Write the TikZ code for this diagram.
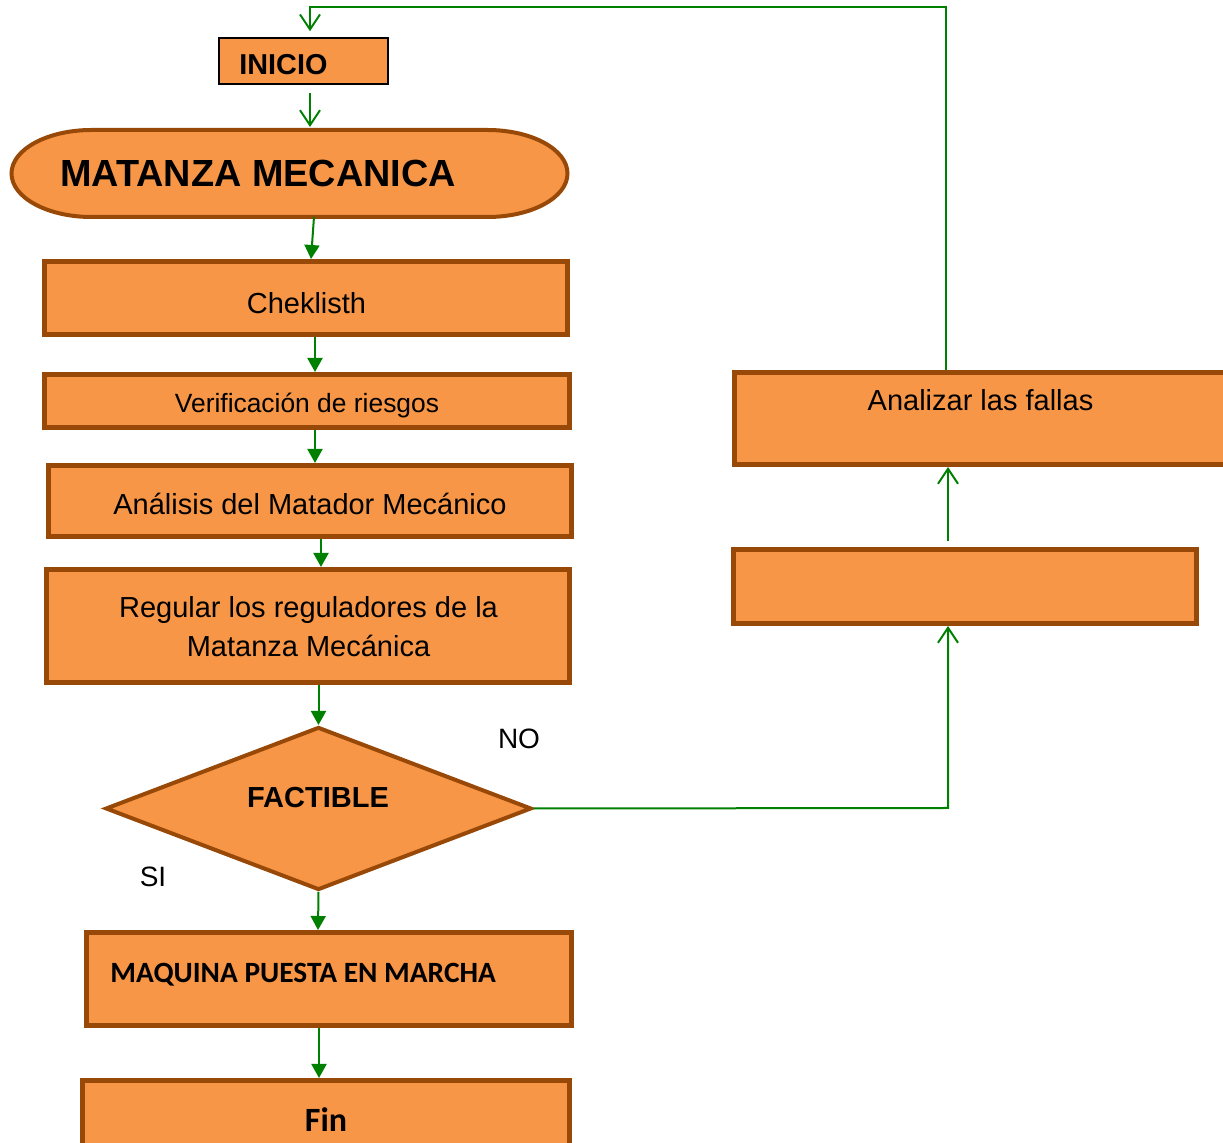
\documentclass[tikz,border=0pt]{standalone}
\usepackage{fontspec}
\setmainfont{Liberation Sans}
\newfontfamily\carlito{Carlito}
\usetikzlibrary{arrows.meta,shapes.geometric}
\definecolor{boxfill}{HTML}{F79646}
\definecolor{boxedge}{HTML}{984807}
\definecolor{flow}{HTML}{008000}

\begin{document}
\begin{tikzpicture}[x=0.5pt,y=-0.5pt,
  box/.style={draw=boxedge, fill=boxfill, line width=2.5pt, inner sep=0pt},
  flowline/.style={draw=flow, line width=1pt},
  solidtip/.style={flowline, -{Triangle[length=7pt,width=7.5pt]}},
  opentip/.style={flowline, -{Straight Barb[length=7.5pt,width=10pt]}},
  txt/.style={inner sep=0pt, anchor=base, font=\fontsize{14.5}{17.4}\selectfont},
  boldtxt/.style={txt, font=\bfseries\fontsize{14.5}{17.4}\selectfont},
]
\useasboundingbox (0,0) rectangle (1223,1143);

% ---------- main column ----------
\node[draw=black, fill=boxfill, line width=0.75pt, inner sep=0pt,
      minimum width=84.5pt, minimum height=23pt] (inicio) at (303.5,61) {};
\node[boldtxt, anchor=base west, font=\bfseries\fontsize{14.4}{17}\selectfont]
      (inicioText) at (239,75) {INICIO};

% terminal with elliptical ends
\node[inner sep=0pt, outer sep=0pt, minimum width=278pt, minimum height=43.5pt] (mat) at (289.5,173.5) {};
\path[draw=boxedge, fill=boxfill, line width=2pt]
  ([xshift=40pt]mat.north west) -- ([xshift=-40pt]mat.north east)
  arc[start angle=90, end angle=-90, x radius=40pt, y radius=21.75pt]
  -- ([xshift=40pt]mat.south west)
  arc[start angle=270, end angle=90, x radius=40pt, y radius=21.75pt] -- cycle;
\node[boldtxt, anchor=base west, font=\bfseries\fontsize{18.9}{22}\selectfont]
      (matText) at (60,187) {MATANZA MECANICA};

\node[box, minimum width=261.5pt, minimum height=36.5pt] (chk) at (306,298) {};
\node[txt] (chkText) at (306.5,314) {Cheklisth};

\node[box, minimum width=262.5pt, minimum height=26.5pt] (ver) at (307,401) {};
\node[txt, font=\fontsize{13.2}{16}\selectfont] (verText) at (307,413) {Verificación de riesgos};

\node[box, minimum width=261.5pt, minimum height=35.5pt] (ana) at (310,501) {};
\node[txt] (anaText) at (310,515) {Análisis del Matador Mecánico};

\node[box, minimum width=261.5pt, minimum height=56.5pt] (reg) at (308,626) {};
\node[txt, anchor=center, align=center, font=\fontsize{14.5}{19.5}\selectfont]
      (regText) at (308.5,627) {Regular los reguladores de la\\Matanza Mecánica};

\node[diamond, draw=boxedge, fill=boxfill, line width=2pt, inner sep=0pt,
      minimum width=213pt, minimum height=81.5pt] (dia) at (318.5,808.5) {};
\node[boldtxt] (diaText) at (318,808) {FACTIBLE};

\node[txt, font=\fontsize{14}{17}\selectfont] (noText) at (519,749) {NO};
\node[txt, font=\fontsize{14}{17}\selectfont] (siText) at (153,887) {SI};

\node[box, minimum width=242.5pt, minimum height=46.5pt] (maq) at (329,979) {};
\node[txt, anchor=base west, font=\carlito\bfseries\fontsize{14.7}{17.5}\selectfont]
      (maqText) at (110,983) {MAQUINA PUESTA EN MARCHA};

\node[box, minimum width=243.5pt, minimum height=42pt] (fin) at (326,1122.5) {};
\node[txt, font=\carlito\bfseries\fontsize{17}{20}\selectfont] (finText) at (326,1132) {Fin};

% ---------- right column ----------
\node[box, minimum width=250pt, minimum height=46pt] (fal) at (984.5,418.5) {};
\node[txt] (falText) at (980.5,411) {Analizar las fallas};

\node[box, minimum width=231.5pt, minimum height=37pt] (emp) at (965,586.5) {};

% ---------- connectors ----------
\coordinate (loopR) at (946,7);
\coordinate (loopL) at (310,7);
\coordinate (noR) at (948,808);

\draw[opentip, shorten >=3pt] (fal.north -| loopR) -- (loopR) -- (loopL) -- (inicio.north -| loopL);
\draw[opentip, shorten <=4pt, shorten >=1.5pt] (inicio.south -| loopL) -- (mat.north -| loopL);
\draw[solidtip] ([xshift=12.25pt]mat.south) -- ([xshift=2.5pt]chk.north);
\draw[solidtip] ([xshift=4.5pt]chk.south) -- ([xshift=4pt]ver.north);
\draw[solidtip] ([xshift=4pt]ver.south) -- ([xshift=2.5pt]ana.north);
\draw[solidtip] ([xshift=5.5pt]ana.south) -- ([xshift=6.5pt]reg.north);
\draw[solidtip] ([xshift=5.25pt]reg.south) -- (dia.north);
\draw[solidtip] (dia.south) -- ([xshift=-5.5pt]maq.north);
\draw[solidtip] ([xshift=-5pt]maq.south) -- ([xshift=-3.5pt]fin.north);
\draw[opentip] (dia.east) -- (noR) -- (emp.south -| noR);
\draw[opentip, shorten <=3pt] (emp.north -| noR) -- (fal.south -| noR);
\end{tikzpicture}
\end{document}
